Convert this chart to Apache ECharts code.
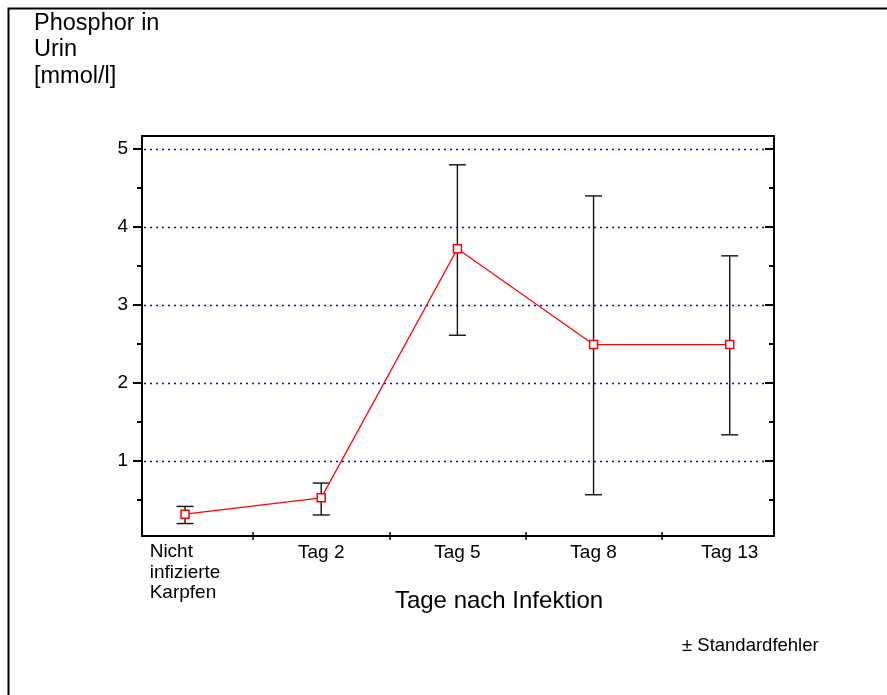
<!DOCTYPE html>
<html>
<head>
<meta charset="utf-8">
<script src="https://cdn.jsdelivr.net/npm/echarts@6/dist/echarts.min.js"></script>
<style>
html,body{margin:0;padding:0;background:#fff;}
#c{width:887px;height:695px;}
</style>
</head>
<body>
<div id="c"></div>
<script>
// ---- data ----
const categories = ['Nicht\ninfizierte\nKarpfen', 'Tag 2', 'Tag 5', 'Tag 8', 'Tag 13'];
const means = [0.31, 0.52, 3.72, 2.49, 2.49];
const upper = [0.41, 0.71, 4.80, 4.40, 3.63];
const lower = [0.19, 0.30, 2.61, 0.56, 1.33];
const yMajorTicks = [1, 2, 3, 4, 5];
const yMinorTicks = [0.5, 1.5, 2.5, 3.5, 4.5];
const xBoundaryTicks = [0.5, 1.5, 2.5, 3.5];
const yTitle = 'Phosphor in\nUrin\n[mmol/l]';
const xTitle = 'Tage nach Infektion';
const note = '± Standardfehler';

const FONT = '"Liberation Sans", Arial, sans-serif';
const X_MIN = -0.316, X_MAX = 4.325;
const Y_MIN = 0.03, Y_MAX = 5.17;
const xIdx = categories.map((_, i) => i);

const chart = echarts.init(document.getElementById('c'), null, {renderer: 'canvas'});

function yAxisBase(extra) {
  return Object.assign({
    type: 'value', min: Y_MIN, max: Y_MAX, gridIndex: 0,
    splitLine: {show: false},
    axisLabel: {show: false},
    axisLine: {show: false, onZero: false},
    axisTick: {show: false}
  }, extra);
}

const option = {
  backgroundColor: '#fff',
  animation: false,
  textStyle: {fontFamily: FONT},
  grid: {left: 142, right: 113, top: 136, bottom: 159, containLabel: false},
  xAxis: [
    {
      type: 'value', position: 'bottom', min: X_MIN, max: X_MAX,
      splitLine: {show: false},
      axisLine: {show: true, onZero: false, lineStyle: {color: '#000', width: 2}},
      axisTick: {show: true, customValues: xBoundaryTicks, length: 4, inside: false, lineStyle: {color: '#000', width: 1.5}},
      axisLabel: {
        show: true, customValues: xIdx, margin: 6,
        color: '#000', fontSize: 19, fontFamily: FONT, lineHeight: 21,
        formatter: function (v) {
          const s = categories[Math.round(v)] || '';
          if (s.indexOf('\n') >= 0) {
            return s.split('\n').map(t => '{l|' + t + '}').join('\n');
          }
          return s;
        },
        rich: {l: {align: 'left', fontSize: 19, fontFamily: FONT, color: '#000', lineHeight: 20.5}}
      }
    },
    {
      type: 'value', position: 'bottom', min: X_MIN, max: X_MAX,
      splitLine: {show: false},
      axisLine: {show: false, onZero: false},
      axisTick: {show: true, customValues: xBoundaryTicks, length: 4, inside: true, lineStyle: {color: '#000', width: 1.5}},
      axisLabel: {show: false}
    },
    {
      type: 'value', position: 'top', min: X_MIN, max: X_MAX,
      splitLine: {show: false},
      axisLine: {show: true, onZero: false, lineStyle: {color: '#000', width: 2}},
      axisTick: {show: false},
      axisLabel: {show: false}
    }
  ],
  yAxis: [
    yAxisBase({
      position: 'left',
      axisLine: {show: true, onZero: false, lineStyle: {color: '#000', width: 2}},
      axisTick: {show: true, customValues: yMajorTicks, length: 9, inside: false, lineStyle: {color: '#000', width: 2}},
      axisLabel: {show: true, customValues: yMajorTicks, margin: 14, color: '#000', fontSize: 19, fontFamily: FONT}
    }),
    yAxisBase({
      position: 'left',
      axisTick: {show: true, customValues: yMinorTicks, length: 5, inside: false, lineStyle: {color: '#000', width: 2}}
    }),
    yAxisBase({
      position: 'right',
      axisLine: {show: true, onZero: false, lineStyle: {color: '#000', width: 2}},
      axisTick: {show: true, customValues: yMajorTicks, length: 9, inside: true, lineStyle: {color: '#000', width: 2}}
    }),
    yAxisBase({
      position: 'right',
      axisTick: {show: true, customValues: yMinorTicks, length: 5, inside: true, lineStyle: {color: '#000', width: 2}}
    })
  ],
  series: [
    {
      // dotted horizontal gridlines at the major ticks
      type: 'custom',
      xAxisIndex: 0, yAxisIndex: 0,
      z: 1,
      silent: true,
      clip: false,
      data: yMajorTicks.map(v => [X_MIN, v]),
      renderItem: function (params, api) {
        const p = api.coord([X_MIN, api.value(1)]);
        const pr = api.coord([X_MAX, api.value(1)]);
        const y = Math.round(p[1]) + 0.5;
        return {
          type: 'line',
          shape: {x1: p[0] + 2, y1: y, x2: pr[0] - 8, y2: y},
          style: {stroke: '#0000ff', lineWidth: 1.3, lineDash: [2, 4], opacity: 1}
        };
      }
    },
    {
      type: 'custom',
      xAxisIndex: 0, yAxisIndex: 0,
      z: 2,
      silent: true,
      data: xIdx.map(i => [i, lower[i], upper[i]]),
      renderItem: function (params, api) {
        const x = api.value(0);
        const pLo = api.coord([x, api.value(1)]);
        const pHi = api.coord([x, api.value(2)]);
        const hw = 8.5;
        const st = {stroke: '#111', lineWidth: 1.4};
        return {
          type: 'group',
          children: [
            {type: 'line', shape: {x1: pLo[0], y1: pLo[1], x2: pHi[0], y2: pHi[1]}, style: st},
            {type: 'line', shape: {x1: pHi[0] - hw, y1: pHi[1], x2: pHi[0] + hw, y2: pHi[1]}, style: st},
            {type: 'line', shape: {x1: pLo[0] - hw, y1: pLo[1], x2: pLo[0] + hw, y2: pLo[1]}, style: st}
          ]
        };
      }
    },
    {
      type: 'line',
      xAxisIndex: 0, yAxisIndex: 0,
      z: 3,
      data: xIdx.map(i => [i, means[i]]),
      symbol: 'rect',
      symbolSize: 8,
      showAllSymbol: true,
      lineStyle: {color: '#ff0000', width: 1.2},
      itemStyle: {color: '#fff', borderColor: '#ff0000', borderWidth: 1.5},
      emphasis: {disabled: true}
    }
  ],
  graphic: [
    {
      type: 'rect', silent: true, z: 10,
      shape: {x: 8.5, y: 8.5, width: 900, height: 700},
      style: {fill: 'none', stroke: '#000', lineWidth: 2}
    },
    {
      type: 'text', silent: true, left: 34, top: 10,
      style: {text: yTitle, fontSize: 23.5, lineHeight: 26.5, fontFamily: FONT, fill: '#000'}
    },
    {
      type: 'text', silent: true, x: 499, y: 589,
      style: {text: xTitle, fontSize: 24, lineHeight: 24, fontFamily: FONT, fill: '#000', align: 'center', verticalAlign: 'top'}
    },
    {
      type: 'text', silent: true, x: 682, y: 637,
      style: {text: note, fontSize: 18.5, lineHeight: 18.5, fontFamily: FONT, fill: '#000', align: 'left', verticalAlign: 'top'}
    }
  ]
};

chart.setOption(option);
</script>
</body>
</html>
